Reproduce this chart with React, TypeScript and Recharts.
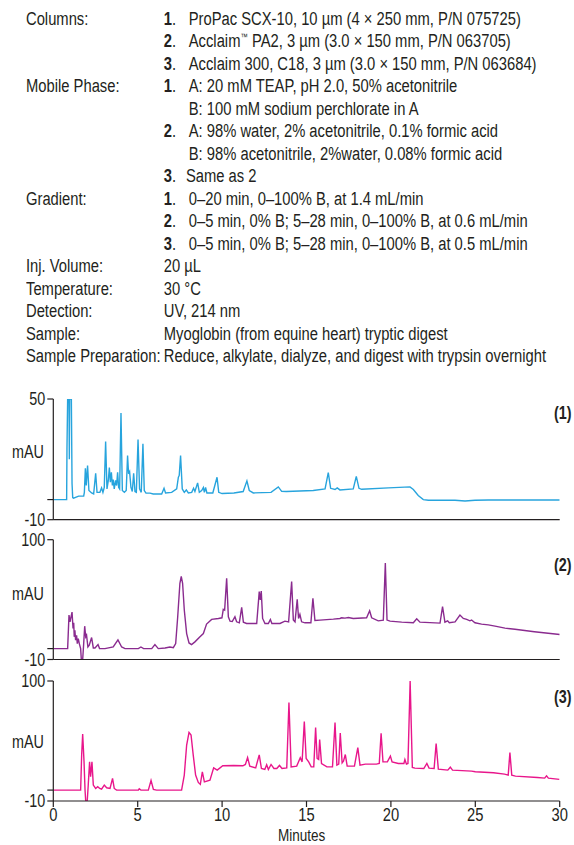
import React from 'react';
import { LineChart, Line, XAxis, YAxis } from 'recharts';

// retention time (min), absorbance (mAU)
const TRACE_SCX: [number, number][] = [
  [0, 0], [0.79, 0], [0.81, 25], [0.85, 50], [0.93, 50], [0.95, 20], [0.97, 50], [1.07, 50], [1.11, 8],
  [1.15, 1], [1.2, 0.7], [1.5, 1.7], [1.8, 1.7], [1.84, 3.6], [1.9, 15.6], [1.95, 7], [2.03, 16.9],
  [2.11, 4.5], [2.27, 3.3], [2.39, 2.8], [2.51, 13.1], [2.59, 3.6], [2.76, 3.6], [2.86, 5.8], [2.94, 3.6],
  [3.02, 6.1], [3.1, 28.9], [3.18, 5.3], [3.26, 9.5], [3.32, 15.9], [3.38, 8.6], [3.44, 13.6], [3.5, 7],
  [3.55, 10], [3.61, 5.3], [3.69, 9.5], [3.75, 7], [3.81, 13.6], [3.87, 6.1], [3.93, 5.3], [4.01, 43],
  [4.09, 4.5], [4.21, 3.6], [4.32, 4.5], [4.4, 21.9], [4.46, 12.8], [4.52, 13.9], [4.6, 6.1], [4.68, 4],
  [4.76, 13.1], [4.84, 4], [4.92, 3.6], [5.02, 29.9], [5.11, 5.3], [5.21, 3.6], [5.31, 27.7], [5.39, 4.5],
  [5.49, 3.2], [5.73, 3.2], [5.92, 2.8], [6.42, 2.8], [6.56, 5.6], [6.65, 3.3], [7.01, 3.6], [7.31, 5.3],
  [7.41, 11.1], [7.46, 12], [7.54, 21.9], [7.64, 5.3], [7.76, 3.6], [7.88, 4.8], [8, 3.3], [8.2, 3.6],
  [8.31, 5.6], [8.39, 4], [8.55, 8.3], [8.65, 3.6], [8.79, 4.5], [8.89, 6], [8.95, 3.6], [9.02, 6.1],
  [9.1, 3.3], [9.45, 3.3], [9.7, 11.1], [9.8, 3.6], [10, 3], [10.7, 3.3], [11.25, 4], [11.47, 9.3],
  [11.61, 4.5], [11.85, 3.3], [12.9, 3.6], [13.33, 6.3], [13.53, 4.1], [13.8, 4], [14.6, 4.3], [15.4, 4.5],
  [16.1, 5.3], [16.29, 13.4], [16.43, 5.6], [16.69, 5], [16.82, 5.8], [16.98, 4.8], [17.77, 5.3],
  [17.95, 11.5], [18.11, 5.6], [18.27, 5.1], [19.85, 5.8], [21.13, 6.3], [21.33, 5], [21.62, 2],
  [21.92, 0], [22.22, -0.3], [23.8, -0.3], [24.39, -0.7], [24.98, -0.3], [25.77, -0.2], [27.35, -0.2],
  [30, -0.2],
];

const TRACE_PA2: [number, number][] = [
  [0, 0], [0.85, 0], [0.93, 30.8], [0.99, 24.6], [1.05, 29.2], [1.11, 33.5], [1.17, 18.5], [1.21, 23.7],
  [1.24, 10.8], [1.28, 16.9], [1.32, 7.7], [1.38, 12.3], [1.42, 4.6], [1.48, 9.2], [1.54, 4.6], [1.62, 0],
  [1.66, -10], [1.74, -10], [1.8, 4.6], [1.86, 20.6], [1.92, 10.8], [1.97, 12.3], [2.05, 1.5], [2.13, 3.1],
  [2.27, 10.2], [2.37, 0.6], [2.47, 0.6], [2.65, 3.7], [2.74, 0], [3.06, 0], [3.55, 1.5], [3.83, 8],
  [4.05, 1.5], [4.25, 0], [5.04, 0], [5.19, 1.5], [5.35, 0], [5.83, 0], [6.02, 3.7], [6.22, 0],
  [6.62, 0.6], [6.91, 1.5], [7.11, 0.9], [7.25, 4.6], [7.37, 29.2], [7.5, 60], [7.58, 66.2], [7.66, 60],
  [7.76, 35.4], [7.9, 13.8], [8.04, 5.2], [8.19, 3.7], [8.39, 6.2], [8.69, 10.8], [8.89, 13.8],
  [9.08, 22.5], [9.38, 26.8], [9.78, 27.7], [9.99, 28.3], [10.07, 36], [10.15, 35.4], [10.27, 64.6],
  [10.37, 29.2], [10.47, 25.2], [10.6, 24.9], [10.76, 29.2], [10.86, 24.6], [11.02, 23.7], [11.16, 37.8],
  [11.26, 24.3], [11.45, 23.1], [12.05, 23.1], [12.2, 52.3], [12.26, 44.6], [12.32, 52.9], [12.4, 27.7],
  [12.54, 23.1], [12.74, 23.1], [12.86, 26.8], [12.95, 23.1], [13.43, 23.1], [13.72, 25.2], [13.94, 24.6],
  [14.12, 61.5], [14.22, 26.2], [14.32, 24.6], [14.45, 45.2], [14.53, 27.7], [14.61, 31.4], [14.71, 24.6],
  [14.91, 23.7], [15.26, 23.7], [15.38, 46.2], [15.5, 25.8], [15.8, 26.2], [16.59, 27.1], [16.98, 27.7],
  [17.08, 28.3], [17.28, 28], [17.48, 28.6], [17.77, 27.7], [18.56, 28.3], [18.74, 34.8], [18.86, 28.3],
  [19.25, 25.5], [19.55, 26.2], [19.67, 78.5], [19.77, 26.2], [19.95, 25.2], [20.64, 24.3], [21.33, 23.7],
  [21.53, 27.4], [21.72, 24.3], [22.91, 23.4], [23.06, 38.5], [23.2, 24.3], [23.36, 25.5], [23.46, 23.7],
  [23.8, 24.6], [24.09, 30.8], [24.29, 27.7], [24.49, 26.8], [24.68, 25.5], [24.78, 26.2], [24.98, 23.7],
  [25.37, 22.5], [25.77, 21.8], [26.17, 20.6], [26.76, 18.8], [27.35, 17.8], [28.5, 15.5], [30, 13],
];

const TRACE_C18: [number, number][] = [
  [0, 0], [1.62, 0], [1.68, 32.1], [1.74, 51.4], [1.82, 26.3], [1.88, 0], [1.92, -10], [2.01, -10],
  [2.07, 4.6], [2.15, 26], [2.21, 12.2], [2.29, 26], [2.37, 4.6], [2.51, 1.5], [2.63, 3.1], [2.75, 1.5],
  [2.86, 0.9], [3.02, 4.6], [3.16, 2.1], [3.36, 1.5], [3.51, 10.7], [3.61, 1.5], [3.75, 0], [5.04, 0],
  [5.09, 1.2], [5.19, 0], [5.63, 0], [5.79, 8.9], [5.93, 0.6], [6.12, 0], [7.6, 0], [7.76, 13.8],
  [7.9, 41.3], [8.04, 52.9], [8.16, 50.5], [8.29, 32.1], [8.43, 13.8], [8.59, 7], [8.71, 5.2], [8.83, 16.8],
  [8.95, 7.6], [9.28, 9.1], [9.5, 20.4], [9.71, 18.3], [10.04, 22.3], [10.69, 22.6], [11.23, 22.3],
  [11.38, 23.5], [11.51, 29.9], [11.64, 22], [11.99, 20.4], [12.2, 32.3], [12.33, 19.8], [12.53, 18.9],
  [12.64, 23.2], [12.74, 18.9], [12.9, 23.5], [13.07, 19.8], [13.24, 19.8], [13.4, 22.6], [13.55, 19.8],
  [13.83, 20.4], [13.96, 80.2], [14.09, 21.3], [14.42, 22], [14.63, 29.6], [14.74, 25.9], [14.87, 62.8],
  [14.98, 29], [15.13, 25.9], [15.28, 21.3], [15.43, 21.3], [15.54, 57.3], [15.63, 29], [15.72, 28],
  [15.78, 46.3], [15.89, 24.4], [16.21, 21.3], [16.54, 21.3], [16.69, 61.9], [16.8, 22.9], [16.91, 23.8],
  [17, 52.4], [17.11, 25], [17.19, 26.5], [17.3, 32.6], [17.41, 22], [17.84, 22], [18.04, 39],
  [18.17, 22.9], [18.49, 23.8], [19.14, 23.8], [19.31, 24.4], [19.42, 52.1], [19.53, 25.9], [19.79, 25.9],
  [19.97, 31.1], [20.07, 25.9], [20.44, 24.4], [20.77, 24.4], [20.83, 28], [20.92, 23.8], [21.01, 24.4],
  [21.14, 100], [21.27, 20.7], [21.42, 20.1], [21.95, 19.8], [22.13, 24.4], [22.26, 20.1], [22.56, 19.8],
  [22.68, 42.7], [22.81, 19.2], [23.37, 18.3], [23.52, 21], [23.65, 18.3], [24.78, 17.4], [25, 16.8],
  [26.08, 15.9], [26.73, 14.6], [26.95, 13.7], [27.05, 34.5], [27.16, 13.7], [27.38, 12.8], [28.68, 11.6],
  [29.11, 11], [29.22, 13.1], [29.33, 11], [29.98, 9.8],
];

const X_TICKS = [0, 5, 10, 15, 20, 25, 30];
const Y_TICKS_SCX = [-10, 0, 50];
const Y_TICKS_RP = [-10, 0, 100];

const CONDITIONS = [
  { label: 'Columns:', lines: [
    { n: '1', text: 'ProPac SCX-10, 10 µm (4 × 250 mm, P/N 075725)' },
    { n: '2', text: 'Acclaim', tm: true, rest: ' PA2, 3 µm (3.0 × 150 mm, P/N 063705)' },
    { n: '3', text: 'Acclaim 300, C18, 3 µm (3.0 × 150 mm, P/N 063684)' },
  ] },
  { label: 'Mobile Phase:', lines: [
    { n: '1', text: 'A: 20 mM TEAP, pH 2.0, 50% acetonitrile' },
    { n: '', text: 'B: 100 mM sodium perchlorate in A' },
    { n: '2', text: 'A: 98% water, 2% acetonitrile, 0.1% formic acid' },
    { n: '', text: 'B: 98% acetonitrile, 2%water, 0.08% formic acid' },
    { n: '3', text: 'Same as 2', tight: true },
  ] },
  { label: 'Gradient:', lines: [
    { n: '1', text: '0–20 min, 0–100% B, at 1.4 mL/min' },
    { n: '2', text: '0–5 min, 0% B; 5–28 min, 0–100% B, at 0.6 mL/min' },
    { n: '3', text: '0–5 min, 0% B; 5–28 min, 0–100% B, at 0.5 mL/min' },
  ] },
  { label: 'Inj. Volume:', lines: [{ text: '20 µL' }] },
  { label: 'Temperature:', lines: [{ text: '30 °C' }] },
  { label: 'Detection:', lines: [{ text: 'UV, 214 nm' }] },
  { label: 'Sample:', lines: [{ text: 'Myoglobin (from equine heart) tryptic digest' }] },
  { label: 'Sample Preparation:', lines: [{ text: 'Reduce, alkylate, dialyze, and digest with trypsin overnight' }] },
];

// condensed look: regular sans squeezed horizontally
const FONT = '"Liberation Sans", Arial, sans-serif';
const SQUEEZE = 0.82;
const INK = '#231f20';

const YTick = (props: any) => {
  const { x, y, payload } = props;
  if (payload.value === 0) return <g />;
  return (
    <text transform={`translate(${x},${y}) scale(${SQUEEZE},1)`} dy={6.3} textAnchor="end" fontSize={17.5} fill={INK} fontFamily={FONT}>
      {payload.value}
    </text>
  );
};

const XTick = (props: any) => {
  const { x, y, payload } = props;
  return (
    <text transform={`translate(${x},${y}) scale(${SQUEEZE},1)`} dy={13} textAnchor="middle" fontSize={18} fill={INK} fontFamily={FONT}>
      {payload.value}
    </text>
  );
};

interface PanelProps {
  trace: [number, number][];
  color: string;
  top: number;
  height: number;
  marginTop: number;
  xAxisHeight: number;
  yMax: number;
  yTicks: number[];
  showLabels?: boolean;
}

const Panel: React.FC<PanelProps> = ({ trace, color, top, height, marginTop, xAxisHeight, yMax, yTicks, showLabels }) => {
  const data = trace.map(([t, v]) => ({ t, v }));
  return (
    <div style={{ position: 'absolute', left: 0, top }}>
      <LineChart width={574} height={height} data={data} margin={{ top: marginTop, right: 14.3, bottom: 0, left: 0 }}>
        <XAxis
          dataKey="t"
          type="number"
          domain={[0, 30]}
          ticks={X_TICKS}
          interval={0}
          height={xAxisHeight}
          stroke={INK}
          strokeWidth={1.2}
          tickSize={6}
          tickMargin={1}
          tick={showLabels ? XTick : false}
          allowDataOverflow
        />
        <YAxis
          type="number"
          domain={[-10, yMax]}
          ticks={yTicks}
          interval={0}
          width={53.3}
          stroke={INK}
          strokeWidth={1.2}
          tickSize={6}
          tickMargin={2}
          tick={YTick}
          allowDataOverflow
        />
        <Line
          type="linear"
          dataKey="v"
          stroke={color}
          strokeWidth={1.4}
          dot={false}
          isAnimationActive={false}
        />
      </LineChart>
    </div>
  );
};

const labelStyle: React.CSSProperties = {
  position: 'absolute',
  fontFamily: FONT,
  fontSize: 17.5,
  color: INK,
  lineHeight: '18px',
  whiteSpace: 'nowrap',
  transform: `scaleX(${SQUEEZE})`,
  transformOrigin: 'left center',
};

export default function App() {
  return (
    <div style={{ position: 'absolute', left: 0, top: 0, width: 574, height: 845, background: '#fff', overflow: 'hidden' }}>
      <div
        style={{
          position: 'absolute', left: 26, top: 8, fontFamily: FONT, fontSize: 18, lineHeight: '22.47px', color: INK,
          transform: `scaleX(${SQUEEZE})`, transformOrigin: 'left top', width: 660,
        }}
      >
        {CONDITIONS.map((row) =>
          row.lines.map((line: any, i) => (
            <div key={row.label + i} style={{ display: 'flex', whiteSpace: 'nowrap', height: 22.47 }}>
              <div style={{ width: 168 }}>{i === 0 ? row.label : ''}</div>
              {line.n !== undefined && (
                <div style={{ width: line.tight ? 27 : 30.5 }}>
                  {line.n && <><b>{line.n}</b>.</>}
                </div>
              )}
              <div>
                {line.text}
                {line.tm && <span style={{ fontSize: 9, lineHeight: 0, position: 'relative', top: -7 }}>™</span>}
                {line.rest}
              </div>
            </div>
          ))
        )}
      </div>

      <Panel trace={TRACE_SCX} color="#27a4dd" top={390} height={140} marginTop={9} xAxisHeight={10.3} yMax={50} yTicks={Y_TICKS_SCX} />
      <Panel trace={TRACE_PA2} color="#8a2b8f" top={530} height={140} marginTop={9.7} xAxisHeight={10.5} yMax={100} yTicks={Y_TICKS_RP} />
      <Panel trace={TRACE_C18} color="#e8168b" top={671} height={174} marginTop={10} xAxisHeight={44} yMax={100} yTicks={Y_TICKS_RP} showLabels />

      <div style={{ ...labelStyle, left: 12, top: 443 }}>mAU</div>
      <div style={{ ...labelStyle, left: 12, top: 585 }}>mAU</div>
      <div style={{ ...labelStyle, left: 12, top: 733 }}>mAU</div>
      <div style={{ ...labelStyle, left: 554, top: 404, fontWeight: 'bold' }}>(1)</div>
      <div style={{ ...labelStyle, left: 554, top: 556, fontWeight: 'bold' }}>(2)</div>
      <div style={{ ...labelStyle, left: 554, top: 688, fontWeight: 'bold' }}>(3)</div>
      <div style={{ ...labelStyle, fontSize: 16.5, lineHeight: '19px', left: 278, top: 826 }}>Minutes</div>
    </div>
  );
}
